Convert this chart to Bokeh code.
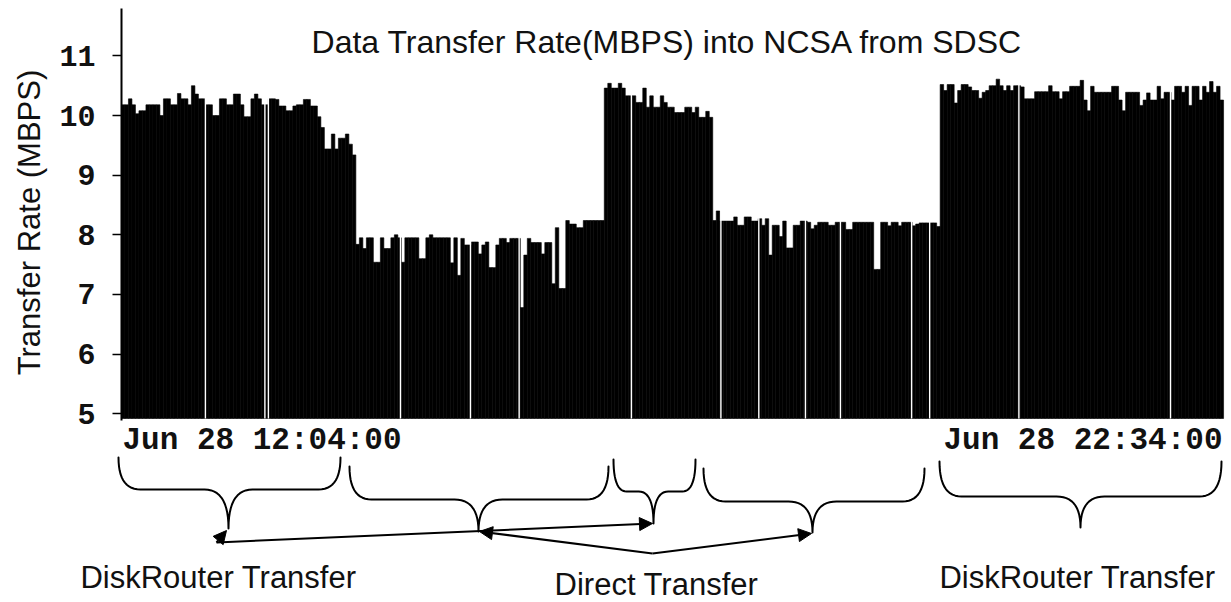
import numpy as np
import pandas as pd
from bokeh.plotting import figure
from bokeh.models import (Range1d, FixedTicker, Label, Arrow, NormalHead,
                          ColumnDataSource)
from bokeh.embed import file_html
from bokeh.resources import INLINE

# ---------------- data ----------------
start_time = "2003-06-28 12:04:00"
end_time = "2003-06-28 22:34:00"
sample_minutes = 2

# transfer rate (MBPS), one value per 2-minute sample
rates = [
    10.18, 10.18, 10.28, 10.18, 10.03, 10.08, 10.08, 10.18, 10.18, 10.18,
    10.18, 10.00, 10.28, 10.28, 10.18, 10.18, 10.37, 10.28, 10.28, 10.18,
    10.50, 10.36, 10.28, 10.28, 10.18, 10.18, 10.00, 10.00, 10.28, 10.28,
    10.18, 10.18, 10.36, 10.36, 10.18, 9.98, 9.98, 10.28, 10.36, 10.28,
    10.18, 10.18, 10.28, 10.28, 10.27, 10.16, 10.16, 10.08, 10.08, 10.16,
    10.18, 10.18, 10.27, 10.27, 10.16, 10.16, 9.98, 9.80, 9.44, 9.44,
    9.69, 9.44, 9.62, 9.62, 9.69, 9.52, 9.34, 7.84, 7.95, 7.77,
    7.95, 7.95, 7.54, 7.54, 7.95, 7.77, 7.77, 7.95, 8.00, 7.95,
    7.54, 7.95, 7.95, 7.95, 7.95, 7.60, 7.60, 7.95, 8.00, 7.95,
    7.95, 7.95, 7.95, 7.95, 7.53, 7.95, 7.32, 7.94, 7.83, 7.83,
    7.88, 7.88, 7.68, 7.83, 7.88, 7.45, 7.45, 7.83, 7.94, 7.94,
    7.87, 7.94, 7.94, 7.94, 6.78, 7.66, 7.94, 7.87, 7.87, 7.87,
    7.68, 7.87, 7.87, 7.18, 8.12, 7.10, 7.10, 8.24, 8.18, 8.18,
    8.12, 8.12, 8.24, 8.24, 8.24, 8.24, 8.24, 8.24, 10.46, 10.54,
    10.46, 10.46, 10.54, 10.46, 10.33, 10.33, 10.33, 10.22, 10.22, 10.46,
    10.14, 10.33, 10.14, 10.14, 10.33, 10.22, 10.14, 10.14, 10.05, 10.05,
    10.05, 10.14, 10.14, 10.05, 10.14, 9.97, 9.97, 10.07, 9.97, 8.24,
    8.40, 8.23, 8.23, 8.23, 8.23, 8.30, 8.16, 8.16, 8.30, 8.30,
    8.23, 8.23, 8.27, 8.16, 8.27, 7.66, 8.16, 8.16, 7.97, 8.23,
    7.78, 7.78, 8.16, 8.16, 8.23, 8.23, 8.21, 8.10, 8.16, 8.21,
    8.21, 8.21, 8.16, 8.16, 8.21, 8.21, 8.21, 8.09, 8.09, 8.21,
    8.21, 8.21, 8.21, 8.21, 8.21, 7.42, 7.42, 8.21, 8.21, 8.15,
    8.21, 8.21, 8.15, 8.21, 8.21, 8.21, 8.15, 8.18, 8.20, 8.20,
    8.20, 8.20, 8.20, 8.14, 10.52, 10.42, 10.52, 10.52, 10.21, 10.42,
    10.52, 10.52, 10.48, 10.42, 10.42, 10.29, 10.39, 10.42, 10.50, 10.50,
    10.61, 10.50, 10.42, 10.50, 10.42, 10.50, 10.50, 10.48, 10.28, 10.28,
    10.28, 10.40, 10.40, 10.40, 10.40, 10.50, 10.40, 10.40, 10.28, 10.40,
    10.40, 10.49, 10.49, 10.49, 10.59, 10.26, 10.08, 10.49, 10.39, 10.39,
    10.39, 10.39, 10.39, 10.49, 10.49, 10.26, 10.08, 10.39, 10.39, 10.39,
    10.39, 10.17, 10.26, 10.38, 10.26, 10.26, 10.49, 10.28, 10.39, 10.39,
    10.26, 10.49, 10.49, 10.39, 10.49, 10.17, 10.49, 10.49, 10.26, 10.49,
    10.39, 10.57, 10.39, 10.49, 10.26,
]

# moments with a missing sample (thin white lines through the bars)
gap_times = ["12:52:00", "13:26:00", "13:28:00", "14:43:30", "15:23:30",
             "15:51:20", "16:55:30", "17:46:40", "18:08:20", "18:35:00",
             "18:55:00", "19:35:40", "19:46:00", "20:37:00", "22:03:40"]

y_ticks = [5, 6, 7, 8, 9, 10, 11]
start_label = "Jun 28 12:04:00"
end_label = "Jun 28 22:34:00"
title_text = "Data Transfer Rate(MBPS) into NCSA from SDSC"
y_title = "Transfer Rate (MBPS)"
phase_labels = ["DiskRouter Transfer", "Direct Transfer", "DiskRouter Transfer"]

# ---------------- derived ----------------
t0 = pd.Timestamp(start_time)
t1 = pd.Timestamp(end_time)
left = t0 + pd.to_timedelta(np.arange(len(rates)) * sample_minutes, unit="m")
right = left + pd.Timedelta(minutes=sample_minutes)
day = start_time.split(" ")[0]
gaps = pd.to_datetime([f"{day} {g}" for g in gap_times])

# ---------------- layout (page pixels) ----------------
W, H = 1231, 602
AX_L, AX_R = 122, 1223           # pixel columns of the time axis ends
AX_TOP, AX_BASE = 8, 418         # pixel rows of the axis top and bar base
baseline = 4.92
ytop = 11.795
ppu = (AX_BASE - AX_TOP) / (ytop - baseline)          # px per MBPS
mpp = (t1 - t0) / (AX_R - AX_L)                        # time per px
x_start = t0 - mpp * AX_L
x_end = t1 + mpp * (W - AX_R)
y_lo = baseline - (H - AX_BASE) / ppu
y_hi = ytop + AX_TOP / ppu

src = ColumnDataSource(dict(left=left, right=right, top=rates))

p = figure(width=W, height=H, x_range=Range1d(x_start, x_end),
           y_range=Range1d(y_lo, y_hi), x_axis_type="datetime",
           x_axis_location=None, output_backend="svg", toolbar_location=None,
           min_border=0)
p.extra_x_ranges = {"px": Range1d(0, W)}
p.extra_y_ranges = {"py": Range1d(H, 0)}

p.quad(left="left", right="right", bottom=baseline, top="top", source=src,
       fill_color="black", line_color="black", line_width=0.6)
p.segment(x0=gaps, y0=baseline, x1=gaps, y1=max(rates) + 0.2,
          line_color="white", line_width=1.4)

p.grid.visible = False
p.outline_line_color = None
p.background_fill_color = "white"
ax = p.yaxis[0]
ax.fixed_location = t0.value / 1e6
ax.bounds = (baseline - 0.04, ytop)
ax.ticker = FixedTicker(ticks=y_ticks)
ax.major_label_text_font = "Liberation Mono"
ax.major_label_text_font_size = "30px"
ax.major_label_text_font_style = "bold"
ax.major_label_text_color = "#111111"
ax.major_label_standoff = 17
ax.major_tick_out = 9
ax.major_tick_in = 0
ax.minor_tick_out = 0
ax.minor_tick_in = 0
ax.axis_line_width = 2
ax.axis_line_color = "black"
ax.major_tick_line_width = 1.5
ax.major_tick_line_color = "black"

txt_kw = dict(x_range_name="px", y_range_name="py", text_color="#111111",
              text_baseline="middle")

# y-axis title and chart title
p.add_layout(Label(x=29, y=222, text=y_title, angle=np.pi / 2,
                   text_align="center", text_font="Liberation Sans",
                   text_font_size="31px", **txt_kw))
p.add_layout(Label(x=667, y=41, text=title_text, text_align="center",
                   text_font="Liberation Sans", text_font_size="32px", **txt_kw))

# time labels at both ends of the axis
for txt, x, align in [(start_label, 122, "left"), (end_label, 1222, "right")]:
    p.add_layout(Label(x=x, y=440, text=txt, text_align=align,
                       text_font="Liberation Mono", text_font_style="bold",
                       text_font_size="31px", **txt_kw))

# phase labels
for txt, x, y in zip(phase_labels, [218, 656, 1077], [577, 584, 577]):
    p.add_layout(Label(x=x, y=y, text=txt, text_align="center",
                       text_font="Liberation Sans", text_font_size="31px",
                       **txt_kw))

# braces: left, right, tip x, top of ends, bar level, tip y
braces = [
    (118, 340, 228, 457, 489, 528),
    (349, 608, 478, 466, 499, 531),
    (613, 695, 653, 459, 491, 523),
    (703, 924, 812, 468, 501, 532),
    (939, 1221, 1080, 461, 496, 527),
]


def qcurve(a, c, b, n=14):
    t = np.linspace(0, 1, n)
    return (1 - t) ** 2 * a + 2 * (1 - t) * t * c + t ** 2 * b


bx, by = [], []
for xl, xr, xt, yt, yh, ytip in braces:
    w = xr - xl
    r = min(22.0, 0.16 * w)
    r2 = min(24.0, 0.18 * w)
    bx.append(list(np.concatenate([
        qcurve(xl, xl, xl + r), qcurve(xt - r2, xt, xt),
        qcurve(xt, xt, xt + r2), qcurve(xr - r, xr, xr)])))
    by.append(list(np.concatenate([
        qcurve(yt, yh, yh), qcurve(yh, yh, ytip),
        qcurve(ytip, yh, yh), qcurve(yh, yh, yt)])))
p.multi_line(bx, by, line_color="black", line_width=2, line_join="round",
             line_cap="round", x_range_name="px", y_range_name="py")

arrows = [
    (216, 542, 226, 530),
    (216, 542, 652, 523),
    (652, 553, 479, 531),
    (652, 553, 811, 533),
]
for xs0, ys0, xe, ye in arrows:
    p.add_layout(Arrow(end=NormalHead(size=13, fill_color="black",
                                      line_color="black", line_width=1),
                       x_start=xs0, y_start=ys0, x_end=xe, y_end=ye,
                       line_width=2, line_color="black",
                       x_range_name="px", y_range_name="py"))

open("out.html", "w").write(file_html(p, INLINE))
